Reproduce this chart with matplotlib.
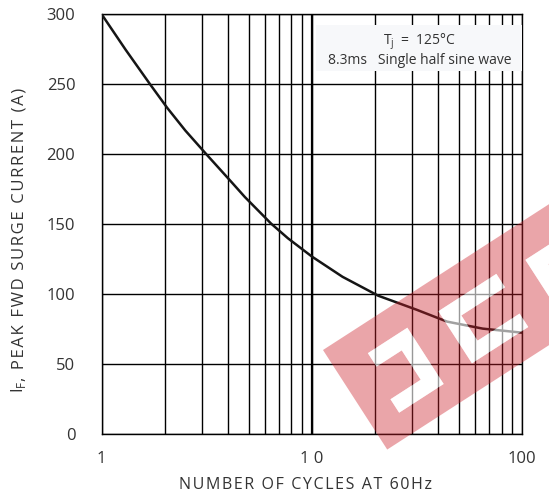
import matplotlib
matplotlib.use("Agg")
import matplotlib.pyplot as plt
import numpy as np
from matplotlib.path import Path
from matplotlib.patches import PathPatch, Polygon, Rectangle
from matplotlib.transforms import Affine2D, IdentityTransform
from matplotlib.ticker import FixedLocator, FixedFormatter, NullFormatter

# values
cycles = [1, 1.3, 1.7, 2.05, 2.5, 3.15, 4.1, 4.8, 6.4, 7.7, 10, 14, 20.7, 31.5, 44, 65, 100]
surge_current = [300, 274.7, 250, 233.2, 217, 200, 181, 169.5, 150.5, 140, 127, 112.5, 99, 89, 80.5, 75.5, 72.6]

x_ticks = [1, 10, 100]
x_tick_labels = ["1", "1 0", "100"]
x_minor = [2, 3, 4, 5, 6, 7, 8, 9, 20, 30, 40, 50, 60, 70, 80, 90]
y_ticks = [0, 50, 100, 150, 200, 250, 300]

TEXT = "#333333"
plt.rcParams["font.family"] = ["Open Sans", "DejaVu Sans"]


def spaced(s):
    # wide letter tracking like the reference
    return "\u200a".join(s)


W, H = 549, 495
fig = plt.figure(figsize=(W / 100, H / 100), dpi=100)
ax = fig.add_axes([0.1852, 0.1226, 0.7656, 0.8485])

ax.set_xscale("log")
ax.set_xlim(1, 100)
ax.set_ylim(0, 300)

ax.xaxis.set_major_locator(FixedLocator(x_ticks))
ax.xaxis.set_major_formatter(FixedFormatter(x_tick_labels))
ax.xaxis.set_minor_locator(FixedLocator(x_minor))
ax.xaxis.set_minor_formatter(NullFormatter())
ax.set_yticks(y_ticks)

ax.grid(True, which="both", axis="x", color="black", lw=1.0)
ax.grid(True, which="major", axis="y", color="black", lw=1.0)
ax.axvline(10, color="black", lw=1.6)
ax.set_axisbelow(True)
for s in ax.spines.values():
    s.set_color("black")
    s.set_linewidth(1.0)

ax.tick_params(which="both", length=0, labelsize=12, colors=TEXT)
ax.tick_params(axis="y", pad=19)
ax.tick_params(axis="x", pad=12)

ax.plot(cycles, surge_current, color="#151515", lw=1.8, zorder=3,
        solid_joinstyle="round")

# condition box
ax.add_patch(Rectangle((0.511, 0.864), 0.489, 0.11, transform=ax.transAxes,
                       facecolor="#f7f8fa", edgecolor="none", zorder=4))
ax.text(0.757, 0.934, r"T$_\mathregular{j}$  =  125°C", transform=ax.transAxes,
        ha="center", va="center", fontsize=10, color=TEXT, zorder=5)
ax.text(0.757, 0.889, "8.3ms   Single half sine wave", transform=ax.transAxes,
        ha="center", va="center", fontsize=10, color=TEXT, zorder=5)

ax.set_xlabel(spaced("NUMBER OF CYCLES AT 60Hz"), fontsize=11.5, color=TEXT)
ax.xaxis.set_label_coords(0.484, -0.1195)
ax.xaxis.label.set_va("center")

# y label in two pieces so the tracked part can use hair spaces
ident = IdentityTransform()
fig.text(23, H - 393, r"I$_\mathregular{F}$", transform=ident, rotation=90,
         rotation_mode="anchor", ha="left", va="baseline", fontsize=12, color=TEXT)
fig.text(23, H - 381, spaced(", PEAK FWD SURGE CURRENT (A)"), transform=ident,
         rotation=90, rotation_mode="anchor", ha="left", va="baseline",
         fontsize=12, color=TEXT)

# watermark: rotated band with letter-shaped holes (pixel frame, y down)
wm = Affine2D(np.array([[0.840, 0.542, 323.0],
                        [0.542, -0.840, H - 350.0],
                        [0.0, 0.0, 1.0]]))


def ring(pts, cw):
    pts = np.asarray(pts, float)
    area = 0.5 * np.sum(pts[:, 0] * np.roll(pts[:, 1], -1) - np.roll(pts[:, 0], -1) * pts[:, 1])
    if (area < 0) != cw:
        pts = pts[::-1]
    return pts


band = [(0, 0), (420, 0), (420, 118.5), (0, 118.5)]
holes = [
    [(36, 27), (83, 27), (83, 94), (30, 94), (30, 78), (66, 78), (66, 43), (36, 43)],
    [(118, 30), (187, 30), (187, 46), (135, 46), (135, 76), (185, 76), (185, 92), (118, 92)],
    [(219, 34), (290, 34), (290, 50), (236, 50), (236, 80), (290, 80), (290, 96), (219, 96)],
]
verts, codes = [], []
for i, r in enumerate([band] + holes):
    p = ring(r, cw=(i > 0))
    verts += list(p) + [p[0]]
    codes += [Path.MOVETO] + [Path.LINETO] * (len(p) - 1) + [Path.CLOSEPOLY]
fig.add_artist(PathPatch(Path(verts, codes), transform=wm, facecolor=(0.80, 0.12, 0.16),
                         alpha=0.4, edgecolor="none", zorder=10))
for h in holes:
    fig.add_artist(Polygon(h, closed=True, transform=wm, facecolor="white",
                           alpha=0.6, edgecolor="none", zorder=10))

fig.savefig("out.png", dpi=100)
